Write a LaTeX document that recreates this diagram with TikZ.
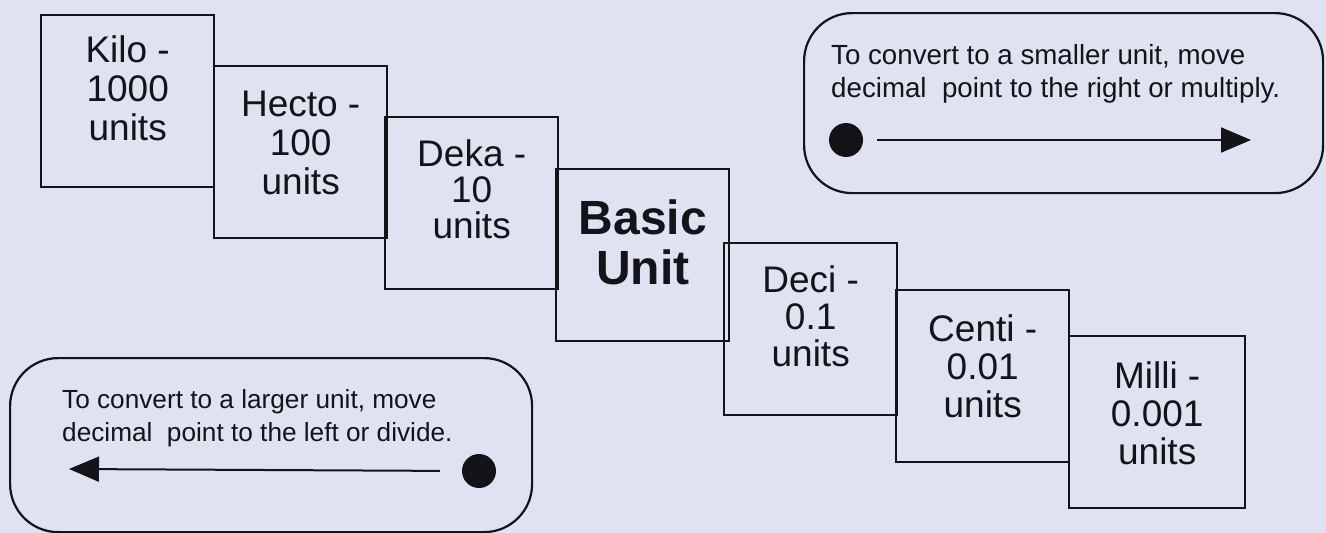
\documentclass[tikz,border=0pt]{standalone}
\usepackage{fontspec}
\setmainfont{Liberation Sans}
\usetikzlibrary{arrows.meta}
\definecolor{bg}{RGB}{222,226,241}
\definecolor{ink}{RGB}{20,20,24}
\begin{document}
\begin{tikzpicture}[x=1pt,y=-1pt,
  unitbox/.style={draw=ink, line width=2.4pt, minimum width=173pt, minimum height=172pt, inner sep=0pt, anchor=north west},
  unittext/.style={text=ink, align=center, inner sep=0pt, font=\fontsize{37}{39}\selectfont},
  basictext/.style={text=ink, align=center, inner sep=0pt, font=\fontsize{48}{50}\selectfont\bfseries},
  notebox/.style={draw=ink, line width=2.2pt, rounded corners=48pt, inner sep=0pt, anchor=north west},
  notetext/.style={text=ink, align=left, inner sep=0pt, anchor=north west},
  dot/.style={circle, fill=ink, minimum size=34pt, inner sep=0pt},
  convarrow/.style={draw=ink, line width=2pt, -{Triangle[length=30pt,width=25pt]}}
]
\fill[bg] (0,0) rectangle (1326,533);
\useasboundingbox (0,0) rectangle (1326,533);

% unit boxes
\node[unitbox] (kilo)  at (40,14)   {};
\node[unitbox] (hecto) at (213,65)  {};
\node[unitbox] (deka)  at (384,116) {};
\node[unitbox] (basic) at (555,168) {};
\node[unitbox] (deci)  at (723,242) {};
\node[unitbox] (centi) at (895,289) {};
\node[unitbox, minimum width=176pt] (milli) at (1068,335) {};

\node[unittext]  (tkilo)  at ([yshift=13pt]kilo.center)  {Kilo -\\1000\\units};
\node[unittext]  (thecto) at ([yshift=9pt]hecto.center)  {Hecto -\\100\\units};
\node[unittext, font=\fontsize{37}{36}\selectfont]  (tdeka)  at ([yshift=14pt]deka.center)  {Deka -\\10\\units};
\node[basictext] (tbasic) at ([yshift=13pt]basic.center) {Basic\\Unit};
\node[unittext, font=\fontsize{37}{37}\selectfont]  (tdeci)  at ([yshift=13pt]deci.center)  {Deci -\\0.1\\units};
\node[unittext, font=\fontsize{37}{38}\selectfont]  (tcenti) at ([yshift=10pt]centi.center) {Centi -\\0.01\\units};
\node[unittext, font=\fontsize{37}{38}\selectfont]  (tmilli) at ([yshift=9pt]milli.center)  {Milli -\\0.001\\units};

% note boxes
\node[notebox, minimum width=519pt, minimum height=180pt] (noteR) at (803,12) {};
\node[notetext, font=\fontsize{27.7}{33}\selectfont] (textR) at (831,44)
  {To convert to a smaller unit, move\\decimal\ \ point to the right or multiply.};
\node[dot] (dotR) at (846,140) {};
\coordinate (tipR) at (1251,140);
\draw[convarrow, shorten <=14pt] (dotR.east) -- (tipR);

\node[notebox, minimum width=522pt, minimum height=174pt] (noteL) at (9,357) {};
\node[notetext, font=\fontsize{26.2}{33}\selectfont] (textL) at (62,389)
  {To convert to a larger unit, move\\decimal\ \ point to the left or divide.};
\node[dot] (dotL) at (479,471) {};
\coordinate (tipL) at (69,469);
\draw[convarrow, shorten <=22pt] (dotL.west) -- (tipL);
\end{tikzpicture}
\end{document}
